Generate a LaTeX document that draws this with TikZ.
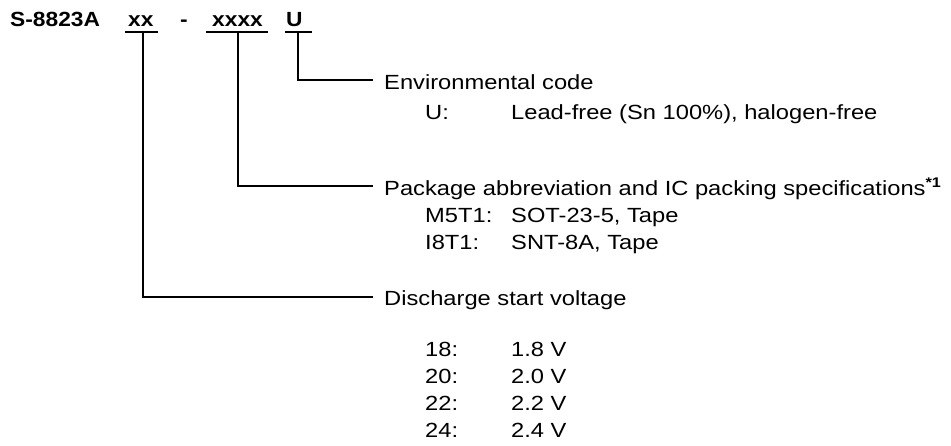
\documentclass[tikz,border=0pt]{standalone}
\usepackage{fontspec}
\setmainfont{Liberation Sans}[FakeStretch=1.11]
\newfontfamily\regfont{Liberation Sans}[FakeStretch=1.156]
\begin{document}
\begin{tikzpicture}[x=1pt,y=-1pt,
  txt/.style={anchor=base west,inner sep=0pt,font=\regfont\fontsize{20.5}{24}\selectfont},
  ttl/.style={anchor=base west,inner sep=0pt,font=\fontsize{20.5}{24}\selectfont\bfseries},
  conn/.style={line width=1.2pt,line join=miter}]
\useasboundingbox (0,0) rectangle (951,445);
% part number
\node[ttl] (pn) at (10,26) {S-8823A};
\node[ttl] (f1) at (128,26) {xx};
\node[ttl] (dsh) at (180,26) {-};
\node[ttl] (f2) at (212,26) {xxxx};
\node[ttl] (f3) at (286,26) {U};
% underlines
\coordinate (u1a) at (125,32); \coordinate (u1b) at (158,32);
\coordinate (u2a) at (206,32); \coordinate (u2b) at (268,32);
\coordinate (u3a) at (285,32); \coordinate (u3b) at (312,32);
\draw[conn] (u1a) -- (u1b);
\draw[conn] (u2a) -- (u2b);
\draw[conn] (u3a) -- (u3b);
\coordinate (c1) at (143,32);
\coordinate (c2) at (238,32);
\coordinate (c3) at (298,32);
% line ends
\coordinate (e3) at (373,80);
\coordinate (e2) at (373,186);
\coordinate (e1) at (373,297);
\draw[conn] (c3) |- (e3);
\draw[conn] (c2) |- (e2);
\draw[conn] (c1) |- (e1);
% environmental code
\node[txt] (env) at (384,89) {Environmental code};
\node[txt] (envk) at (425,119.5) {U:};
\node[txt] (envv) at (511,119.5) {Lead-free (Sn 100\%), halogen-free};
% package
\node[txt] (pkg) at (384,195) {Package abbreviation and IC packing specifications\textsuperscript{\bfseries\fontsize{14}{14}\selectfont *1}};
\node[txt] (pk1) at (425,222) {M5T1:};
\node[txt] (pv1) at (511,222) {SOT-23-5, Tape};
\node[txt] (pk2) at (425,249) {I8T1:};
\node[txt] (pv2) at (511,249) {SNT-8A, Tape};
% discharge start voltage
\node[txt] (dsv) at (384,305.5) {Discharge start voltage};
\node[txt] (k18) at (425,356) {18:};
\node[txt] (v18) at (511,356) {1.8 V};
\node[txt] (k20) at (425,383) {20:};
\node[txt] (v20) at (511,383) {2.0 V};
\node[txt] (k22) at (425,410) {22:};
\node[txt] (v22) at (511,410) {2.2 V};
\node[txt] (k24) at (425,437) {24:};
\node[txt] (v24) at (511,437) {2.4 V};
\end{tikzpicture}
\end{document}
